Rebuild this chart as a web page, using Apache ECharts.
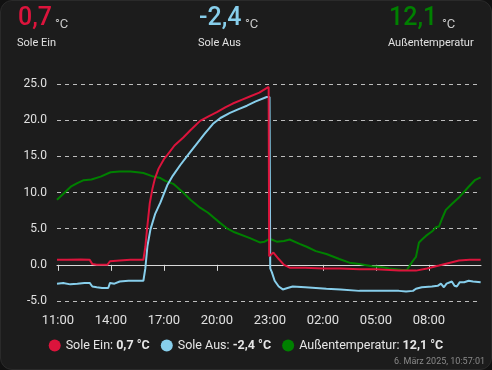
<!DOCTYPE html>
<html><head><meta charset="utf-8">
<script src="https://cdn.jsdelivr.net/npm/echarts@6/dist/echarts.min.js"></script>
<style>
html,body{margin:0;padding:0;background:#111;}
#card{position:absolute;left:0;top:0;width:492px;height:370px;box-sizing:border-box;border:1px solid #2a2a2a;border-radius:12px;background:#1c1c1c;overflow:hidden;}
#chart{width:100%;height:100%;}
</style></head>
<body><div id="card"><div id="chart"></div></div>
<script>
// Series names, colours, current values
const seriesNames = ['Sole Ein', 'Sole Aus', 'Außentemperatur'];
const seriesColors = ['#dc143c', '#87ceeb', '#008000'];
const currentValues = ['0,7', '-2,4', '12,1'];
const unit = '°C';
const timestampText = '6. März 2025, 10:57:01';

// x in hours since midnight of day 1 (10.95 = 10:57)
const xMin = 10.95, xMax = 34.95;
const xTickHours = [11, 14, 17, 20, 23, 26, 29, 32];
const xTickLabels = ['11:00', '14:00', '17:00', '20:00', '23:00', '02:00', '05:00', '08:00'];
const yMin = -5, yMax = 25, yInterval = 5;

const soleEinTime = [10.95,11.5,12.3,12.8,12.95,13.2,13.8,13.95,14.5,15.1,15.84,15.95,16.05,16.2,16.35,16.5,16.7,17.0,17.2,17.6,18.1,18.5,19.05,19.5,20.0,20.5,20.9,21.4,21.9,22.4,22.93,22.96,23.2,23.5,23.8,24.12,25.0,26.0,27.0,28.06,29.0,30.31,31.27,31.9,32.57,33.2,33.7,34.3,34.93];
const soleEinValues = [0.7,0.7,0.75,0.7,0.1,0.0,0.0,0.5,0.6,0.7,0.7,2.5,5.0,8.5,10.5,12.0,13.3,14.6,15.2,16.5,17.6,18.6,19.9,20.5,21.1,21.8,22.3,22.8,23.3,23.8,24.6,1.2,1.7,0.8,0.0,-0.4,-0.4,-0.5,-0.5,-0.6,-0.6,-0.8,-0.8,-0.5,-0.1,0.3,0.6,0.7,0.7];

const soleAusTime = [10.95,11.3,11.7,12.1,12.5,12.8,12.95,13.2,13.5,13.85,13.95,14.2,14.5,15.0,15.84,15.95,16.07,16.24,16.5,16.8,17.19,17.5,17.93,18.4,18.88,19.3,19.78,20.2,20.74,21.2,21.7,22.2,22.82,22.98,23.02,23.11,23.27,23.5,23.73,24.0,24.29,25.0,26.2,27.0,28.06,29.0,29.92,30.3,30.71,31.1,31.27,31.6,32.17,32.5,32.68,32.85,33.0,33.3,33.45,33.58,33.75,34.0,34.25,34.5,34.93];
const soleAusValues = [-2.6,-2.5,-2.7,-2.6,-2.5,-2.5,-3.0,-3.1,-3.2,-3.2,-2.5,-2.6,-2.3,-2.2,-2.2,-0.5,2.6,4.9,7.0,8.6,11.0,12.3,13.8,15.3,16.8,18.1,19.5,20.3,21.0,21.5,22.0,22.6,23.2,23.2,-0.5,-1.0,-2.2,-3.0,-3.4,-3.2,-3.0,-3.1,-3.3,-3.4,-3.6,-3.6,-3.6,-3.6,-3.7,-3.6,-3.3,-3.1,-3.0,-2.9,-2.6,-3.1,-2.6,-2.3,-2.9,-3.0,-2.4,-2.4,-2.2,-2.3,-2.4];

const aussenTime = [10.95,11.3,11.73,12.1,12.46,12.9,13.42,13.98,14.5,15.11,15.5,15.84,16.41,16.8,17.08,17.53,18.09,18.5,19.05,19.5,20.18,20.6,21.0,21.87,22.43,22.7,22.99,23.39,23.8,24.12,24.68,25.08,25.6,26.2,26.93,27.5,28.06,28.79,29.3,29.75,30.14,30.5,30.76,31.05,31.27,31.44,31.61,31.83,32.17,32.4,32.57,32.73,32.96,33.3,33.7,34.25,34.6,34.93];
const aussenValues = [9.0,9.8,10.8,11.3,11.7,11.8,12.2,12.8,12.9,12.9,12.8,12.7,12.2,12.0,11.6,11.2,10.0,9.0,7.9,7.2,5.8,5.0,4.5,3.7,3.1,3.2,3.6,3.2,3.3,3.5,2.9,2.5,1.9,1.5,0.8,0.3,0.1,-0.2,-0.3,-0.5,-0.6,-0.7,-0.7,0.4,1.1,3.1,3.5,4.0,4.6,5.2,5.3,6.3,7.6,8.4,9.3,10.8,11.7,12.1];

const seriesTimes = [soleEinTime, soleAusTime, aussenTime];
const seriesValues = [soleEinValues, soleAusValues, aussenValues];

const chart = echarts.init(document.getElementById('chart'), null, {renderer: 'canvas'});
const FONT = 'Roboto';

const headerX = [17, 198, 388];
const unitX = [54, 244, 441];
const graphics = [];
seriesNames.forEach((n, i) => {
  graphics.push({type: 'text', left: headerX[i], top: 5, style: {text: currentValues[i], fill: seriesColors[i], font: '500 25px Roboto'}});
  graphics.push({type: 'text', left: unitX[i], top: 17, style: {text: unit, fill: '#c8c8c8', font: '13px Roboto'}});
  graphics.push({type: 'text', left: headerX[i] - 1, top: 37, style: {text: n, fill: '#e1e1e1', font: '11px Roboto'}});
});
graphics.push({type: 'text', right: 6, top: 356, style: {text: timestampText, fill: '#8a8a8a', font: '9px Roboto'}});

chart.setOption({
  backgroundColor: 'transparent',
  animation: false,
  textStyle: {fontFamily: FONT},
  graphic: graphics,
  grid: {left: 56, right: 10, top: 83, bottom: 68, containLabel: false},
  legend: {
    bottom: 12, left: 'center', icon: 'circle', itemWidth: 12, itemHeight: 12, itemGap: 11,
    data: seriesNames,
    formatter: name => name + ': {b|' + currentValues[seriesNames.indexOf(name)] + ' ' + unit + '}',
    textStyle: {color: '#e6e6e6', fontSize: 12.5, fontFamily: FONT, rich: {b: {fontWeight: 'bold', fontSize: 12.5, color: '#e6e6e6', fontFamily: FONT}}}
  },
  xAxis: {
    type: 'value', min: xMin, max: xMax,
    axisLine: {lineStyle: {color: '#d8d8d8', width: 1}},
    axisTick: {show: true, length: 6, lineStyle: {color: '#d8d8d8'}, customValues: xTickHours},
    axisLabel: {color: '#e0e0e0', fontSize: 13, margin: 13, fontFamily: FONT, customValues: xTickHours,
      formatter: v => { const k = xTickHours.indexOf(Math.round(v)); return k >= 0 ? xTickLabels[k] : ''; }},
    splitLine: {show: false}
  },
  yAxis: {
    type: 'value', min: yMin, max: yMax, interval: yInterval,
    axisLine: {show: false}, axisTick: {show: false},
    axisLabel: {color: '#e0e0e0', fontSize: 12, margin: 10, fontFamily: FONT, formatter: v => v.toFixed(1)},
    splitLine: {lineStyle: {color: '#bdbdbd', type: [4, 4], width: 1}}
  },
  series: seriesNames.map((n, i) => ({
    name: n, type: 'line', showSymbol: false, symbol: 'none',
    color: seriesColors[i],
    lineStyle: {width: 2, color: seriesColors[i]},
    data: seriesTimes[i].map((t, k) => [t, seriesValues[i][k]]),
    z: 3 - i
  }))
});
</script></body></html>
